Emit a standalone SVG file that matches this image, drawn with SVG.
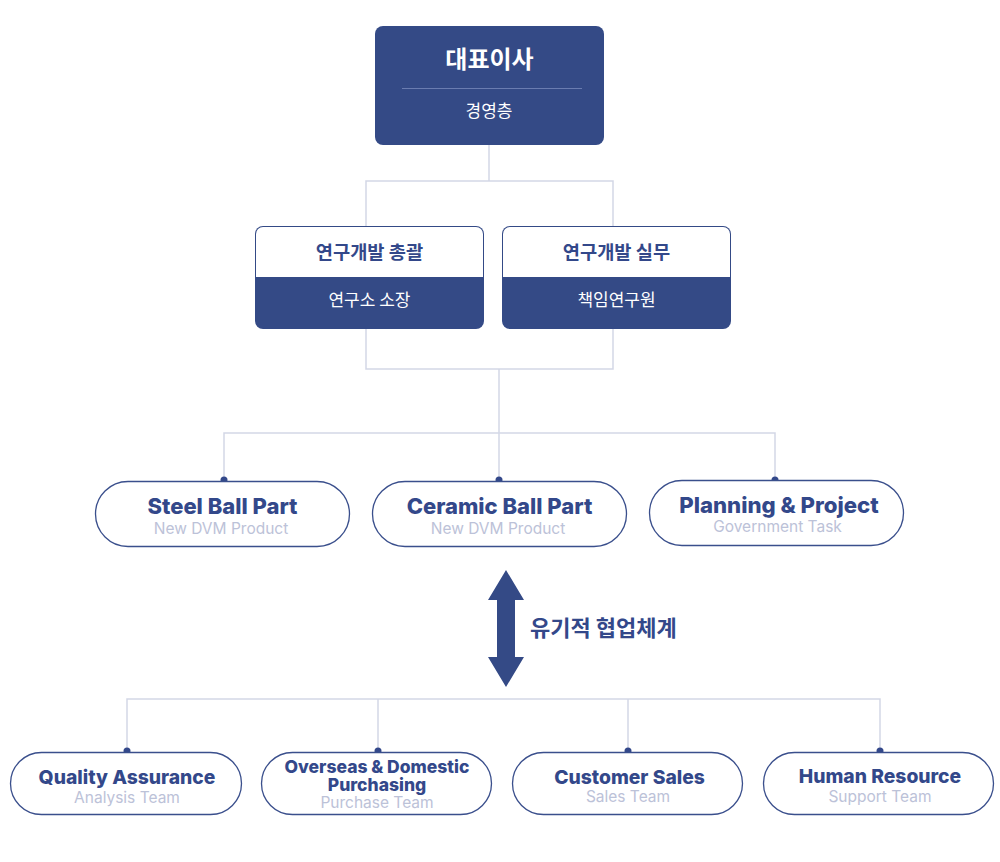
<svg xmlns="http://www.w3.org/2000/svg" width="1000" height="862" viewBox="0 0 1000 862">
<style>
.conn{fill:none;stroke:#d3d7e6;stroke-width:1.5}
.dot{fill:#33488a}
.navy{fill:#344a86}
.pill{fill:#fff;stroke:#3a4f8c;stroke-width:1.3}
.kr{font-family:"Noto Sans CJK KR","Noto Sans",sans-serif}
.t1{font-family:Inter,"Liberation Sans",sans-serif;font-weight:800;fill:#33488a;text-anchor:middle}
.t2{font-family:Inter,"Liberation Sans",sans-serif;font-weight:400;fill:#bcc2d8;text-anchor:middle;font-size:15.5px}
</style>
<rect width="1000" height="862" fill="#fff"/>
<g id="connectors">
<path class="conn" d="M489 145V181M366 226V181H613V226"/>
<path class="conn" d="M366 329V369H613V329M499 369V480"/>
<path class="conn" d="M224 480V433H775V480"/>
<circle class="dot" cx="224" cy="480" r="3.5"/>
<circle class="dot" cx="499" cy="480" r="3.5"/>
<circle class="dot" cx="775" cy="480" r="3.5"/>
<path class="conn" d="M127 751V699H880V751M378 699V751M628 699V751"/>
<circle class="dot" cx="127" cy="751" r="3.5"/>
<circle class="dot" cx="378" cy="751" r="3.5"/>
<circle class="dot" cx="628" cy="751" r="3.5"/>
<circle class="dot" cx="880" cy="751" r="3.5"/>
</g>
<g id="ceo">
<rect class="navy" x="375" y="26" width="229" height="119" rx="8"/>
<line x1="402" y1="88.5" x2="582" y2="88.5" stroke="#6a7cb0" stroke-width="1"/>
<text class="kr" x="489.5" y="68" text-anchor="middle" font-size="24" font-weight="700" fill="#fff">대표이사</text>
<text class="kr" x="489" y="117" text-anchor="middle" font-size="17" fill="#fff">경영층</text>
</g>
<g id="rd-head">
<rect class="navy" x="255" y="226" width="229" height="103" rx="8"/>
<path d="M256 277V234a7 7 0 0 1 7-7H476a7 7 0 0 1 7 7V277Z" fill="#fff"/>
<text class="kr" x="369.5" y="259" text-anchor="middle" font-size="18.7" font-weight="700" fill="#33488a">연구개발 총괄</text>
<text class="kr" x="369.5" y="306" text-anchor="middle" font-size="17" fill="#fff">연구소 소장</text>
</g>
<g id="rd-work">
<rect class="navy" x="502" y="226" width="229" height="103" rx="8"/>
<path d="M503 277V234a7 7 0 0 1 7-7H723a7 7 0 0 1 7 7V277Z" fill="#fff"/>
<text class="kr" x="616.5" y="259" text-anchor="middle" font-size="18.7" font-weight="700" fill="#33488a">연구개발 실무</text>
<text class="kr" x="616.5" y="306" text-anchor="middle" font-size="17" fill="#fff">책임연구원</text>
</g>
<g id="steel">
<rect class="pill" x="95.5" y="481.5" width="254" height="65" rx="32.5"/>
<text class="t1" x="222.5" y="514" font-size="22">Steel Ball Part</text>
<text class="t2" x="221" y="534">New DVM Product</text>
</g>
<g id="ceramic">
<rect class="pill" x="372.5" y="481.5" width="254" height="65" rx="32.5"/>
<text class="t1" x="499.5" y="514" font-size="22">Ceramic Ball Part</text>
<text class="t2" x="498" y="534">New DVM Product</text>
</g>
<g id="planning">
<rect class="pill" x="649.5" y="480.5" width="254" height="65" rx="32.5"/>
<text class="t1" x="779" y="513" font-size="22.2">Planning &amp; Project</text>
<text class="t2" x="777.5" y="532">Government Task</text>
</g>
<g id="collab">
<path class="navy" d="M506 570L524 600H515V657H524L506 687L488 657H497V600H488Z"/>
<text class="kr" x="530" y="636" font-size="22" font-weight="700" fill="#33488a">유기적 협업체계</text>
</g>
<g id="qa">
<rect class="pill" x="10.5" y="752.5" width="231" height="62" rx="31"/>
<text class="t1" x="127" y="784" font-size="19.3">Quality Assurance</text>
<text class="t2" x="127" y="803">Analysis Team</text>
</g>
<g id="purchasing">
<rect class="pill" x="261.5" y="752.5" width="230" height="62" rx="31"/>
<text class="t1" font-size="17.5"><tspan x="377" y="772.5">Overseas &amp; Domestic</tspan><tspan x="377" y="790.5">Purchasing</tspan></text>
<text class="t2" x="377" y="808">Purchase Team</text>
</g>
<g id="sales">
<rect class="pill" x="512.5" y="752.5" width="230" height="62" rx="31"/>
<text class="t1" x="629.5" y="784" font-size="19.3">Customer Sales</text>
<text class="t2" x="628" y="802">Sales Team</text>
</g>
<g id="hr">
<rect class="pill" x="763.5" y="752.5" width="230" height="62" rx="31"/>
<text class="t1" x="880" y="783" font-size="19.3">Human Resource</text>
<text class="t2" x="880" y="802">Support Team</text>
</g>
</svg>
